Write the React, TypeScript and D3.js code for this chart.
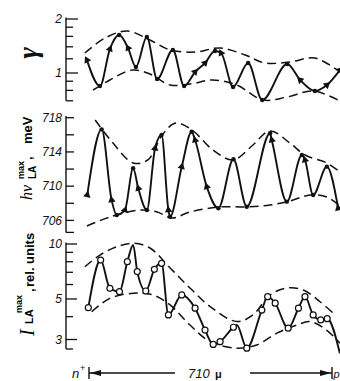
import React, { useRef, useEffect } from 'react';
import * as d3 from 'd3';

// x is the distance from the n+ contact, in microns (0..710)
const gammaCurve: [number, number][] = [
    [-6, 1.18], [32, 0.846], [61, 1.36], [88, 1.628], [114, 1.379], [137, 1.08], [169, 1.587],
    [199, 0.926], [245, 1.344], [278, 0.846], [310, 1.013], [339, 1.137], [368, 1.326], [386, 1.293],
    [421, 0.836], [465, 1.137], [506, 0.707], [579, 1.122], [617, 0.914], [660, 0.794], [695, 0.857],
    [733, 1.039]
];
const gammaUpper: [number, number][] = [
    [-12, 1.293], [47, 1.567], [111, 1.714], [178, 1.527], [237, 1.344], [310, 1.309], [383, 1.379],
    [456, 1.26], [514, 1.137], [587, 1.152], [660, 1.212], [733, 1.013]
];
const gammaLower: [number, number][] = [
    [12, 0.804], [61, 0.914], [126, 1.039], [178, 0.987], [237, 0.857], [295, 0.868], [362, 0.914],
    [432, 0.857], [508, 0.707], [579, 0.735], [655, 0.794], [733, 0.698]
];
const gammaTicks = [0.7, 0.8, 0.9, 1, 1.2, 1.4, 1.6, 1.8, 2];
const gammaLabels = [1, 2];

const energyCurve: [number, number][] = [
    [-5, 708.97], [37, 716.64], [66, 708.39], [81, 706.63], [105, 707.22], [129, 712.09], [144, 709.75],
    [169, 707.22], [193, 714.43], [212, 715.98], [232, 707.22], [237, 706.43], [271, 712.28],
    [300, 716.36], [310, 715.39], [344, 709.94], [378, 707.42], [422, 713.14], [461, 707.6],
    [529, 716.18], [534, 715.39], [578, 708.19], [622, 713.64], [631, 713.06], [655, 708.97],
    [695, 712.28], [728, 707.42]
];
const energyUpper: [number, number][] = [
    [18, 717.73], [70, 715.04], [129, 712.71], [172, 713.06], [216, 716.1], [254, 717.38], [301, 716.56],
    [362, 714.23], [421, 713.06], [476, 714.69], [529, 716.45], [587, 715.04], [631, 713.64],
    [695, 712.71], [733, 711.66]
];
const energyLower: [number, number][] = [
    [-6, 705.35], [61, 706.4], [149, 707.22], [199, 706.98], [243, 706.28], [295, 706.98], [383, 707.57],
    [462, 707.57], [529, 707.8], [587, 708.27], [646, 708.97], [695, 708.74], [733, 707.68]
];
const energyTicks = [706, 708, 710, 712, 714, 716, 718];
const energyLabels = [706, 710, 714, 718];

const intensityCurve: [number, number][] = [
    [-2, 4.48], [34, 8.17], [61, 5.72], [89, 5.48], [112, 8.0], [129, 9.87], [141, 7.06], [166, 5.53],
    [191, 7.27], [212, 7.84], [232, 4.09], [271, 5.26], [310, 4.45], [339, 3.38], [363, 2.82],
    [383, 2.92], [422, 3.5], [432, 3.6], [461, 2.69], [505, 4.35], [522, 5.15], [544, 4.74],
    [582, 3.46], [612, 4.45], [631, 5.15], [655, 4.09], [677, 3.84], [696, 3.9], [733, 2.52]
];
// points of the curve drawn without a circle
const intensityBare = [129, 432, 733];
const intensityUpper: [number, number][] = [
    [-12, 7.51], [32, 8.7], [81, 9.66], [129, 10.09], [178, 9.51], [237, 7.39], [295, 5.74], [354, 4.54],
    [432, 3.76], [479, 4.09], [529, 5.26], [578, 5.74], [626, 5.6], [675, 4.83], [713, 4.19]
];
const intensityLower: [number, number][] = [
    [8, 4.26], [61, 5.04], [129, 5.37], [187, 5.26], [237, 4.64], [295, 3.6], [354, 2.92], [432, 2.69],
    [490, 2.8], [549, 3.25], [607, 3.6], [646, 3.76], [694, 3.38], [733, 2.86]
];
const intensityTicks = [3, 4, 5, 6, 7, 8, 9, 10];
const intensityLabels = [3, 5, 10];

const App: React.FC = () => {
    const svgRef = useRef<SVGSVGElement | null>(null);

    useEffect(() => {
        const svg = d3.select(svgRef.current);
        svg.selectAll('*').remove();
        const width = 340;
        const height = 381;
        const axisX = 66;
        const ink = '#111';
        const sans = 'Liberation Sans, Arial, sans-serif';
        const serif = 'Liberation Serif, Times New Roman, serif';

        svg.attr('width', width).attr('height', height).style('background', '#fff');

        const x = d3.scaleLinear().domain([0, 710]).range([89, 332]);

        const panels = [
            {
                y: d3.scaleLog().domain([0.7, 2]).range([100.8, 19]),
                curve: gammaCurve, upper: gammaUpper, lower: gammaLower,
                ticks: gammaTicks, labels: gammaLabels, extent: [0.7, 2.04],
                marks: 'arrow', major: 12, minor: 7
            },
            {
                y: d3.scaleLinear().domain([706, 718]).range([220.4, 117.7]),
                curve: energyCurve, upper: energyUpper, lower: energyLower,
                ticks: energyTicks, labels: energyLabels, extent: [704.6, 718.2],
                marks: 'arrow', major: 8, minor: 8
            },
            {
                y: d3.scaleLog().domain([3, 10]).range([339.5, 244]),
                curve: intensityCurve, upper: intensityUpper, lower: intensityLower,
                ticks: intensityTicks, labels: intensityLabels, extent: [2.66, 10.2],
                marks: 'circle', major: 11, minor: 7
            }
        ];

        panels.forEach(p => {
            const g = svg.append('g');

            // axis with inward ticks
            g.append('line')
                .attr('x1', axisX).attr('x2', axisX)
                .attr('y1', p.y(p.extent[1])).attr('y2', p.y(p.extent[0]))
                .attr('stroke', ink).attr('stroke-width', 1.4);

            const tickVals = Array.from(new Set([...p.ticks, p.extent[0]]));
            g.selectAll('line.tick')
                .data(tickVals)
                .enter()
                .append('line')
                .attr('class', 'tick')
                .attr('x1', axisX)
                .attr('x2', d => axisX + (p.labels.includes(d) ? p.major : p.minor))
                .attr('y1', d => p.y(d))
                .attr('y2', d => p.y(d))
                .attr('stroke', ink)
                .attr('stroke-width', 1.3);

            g.selectAll('text.lbl')
                .data(p.labels)
                .enter()
                .append('text')
                .attr('class', 'lbl')
                .attr('x', axisX - 4)
                .attr('y', d => p.y(d))
                .attr('dy', '0.36em')
                .attr('text-anchor', 'end')
                .style('font-family', sans)
                .style('font-style', 'italic')
                .style('font-size', '12px')
                .style('fill', ink)
                .text(d => d);

            // dashed envelopes
            const env = d3.line<[number, number]>()
                .x(d => x(d[0]))
                .y(d => p.y(d[1]))
                .curve(d3.curveCatmullRom);
            [p.upper, p.lower].forEach(e => {
                g.append('path')
                    .attr('d', env(e))
                    .attr('fill', 'none')
                    .attr('stroke', ink)
                    .attr('stroke-width', 1.5)
                    .attr('stroke-dasharray', '9 5');
            });

            // measured curve
            const line = d3.line<[number, number]>()
                .x(d => x(d[0]))
                .y(d => p.y(d[1]))
                .curve(d3.curveMonotoneX);
            g.append('path')
                .attr('d', line(p.curve))
                .attr('fill', 'none')
                .attr('stroke', ink)
                .attr('stroke-width', 1.9);

            if (p.marks === 'circle') {
                g.selectAll('circle')
                    .data(p.curve.filter(d => !intensityBare.includes(d[0])))
                    .enter()
                    .append('circle')
                    .attr('cx', d => x(d[0]))
                    .attr('cy', d => p.y(d[1]))
                    .attr('r', 3)
                    .attr('fill', '#fff')
                    .attr('stroke', ink)
                    .attr('stroke-width', 1.2);
            } else {
                const c = p.curve;
                c.forEach((d, i) => {
                    const prev = c[Math.max(0, i - 1)];
                    const next = c[Math.min(c.length - 1, i + 1)];
                    const extremum = i > 0 && i < c.length - 1 && (d[1] - prev[1]) * (next[1] - d[1]) < 0;
                    const cx = x(d[0]);
                    const cy = p.y(d[1]);
                    if (extremum) {
                        g.append('circle').attr('cx', cx).attr('cy', cy).attr('r', 2.2).attr('fill', ink);
                    } else {
                        // arrowhead pointing uphill along the curve
                        const hi = prev[1] > next[1] ? prev : next;
                        const lo = hi === prev ? next : prev;
                        const ang = Math.atan2(p.y(hi[1]) - p.y(lo[1]), x(hi[0]) - x(lo[0])) * 180 / Math.PI;
                        g.append('path')
                            .attr('d', d3.symbol(d3.symbolTriangle, 24)())
                            .attr('transform', `translate(${cx},${cy}) rotate(${ang + 90})`)
                            .attr('fill', ink);
                    }
                });
            }
        });

        // axis titles
        svg.append('text')
            .attr('transform', 'translate(37,53) rotate(-90)')
            .attr('text-anchor', 'middle')
            .style('font-family', serif)
            .style('font-style', 'italic')
            .style('font-weight', 'bold')
            .style('font-size', '28px')
            .style('fill', ink)
            .text('γ');

        const t2 = svg.append('g').attr('transform', 'translate(32,200) rotate(-90)');
        t2.append('text').attr('x', 0).attr('y', 0)
            .style('font-family', serif).style('font-style', 'italic').style('font-size', '16px').text('hν');
        t2.append('text').attr('x', 21).attr('y', -8)
            .style('font-family', sans).style('font-weight', 'bold').style('font-size', '9px').text('max');
        t2.append('text').attr('x', 21).attr('y', 4)
            .style('font-family', sans).style('font-weight', 'bold').style('font-size', '10px').text('LA');
        t2.append('text').attr('x', 40).attr('y', 0)
            .style('font-family', sans).style('font-weight', 'bold').style('font-size', '13px').text(',');
        t2.append('text').attr('x', 56).attr('y', 0)
            .style('font-family', sans).style('font-weight', 'bold').style('font-size', '13px').text('meV');

        const t3 = svg.append('g').attr('transform', 'translate(34,336) rotate(-90)');
        t3.append('text').attr('x', 0).attr('y', 0)
            .style('font-family', serif).style('font-style', 'italic').style('font-size', '20px').text('I');
        t3.append('text').attr('x', 12).attr('y', -1)
            .style('font-family', sans).style('font-weight', 'bold').style('font-size', '11px').text('LA');
        t3.append('text').attr('x', 23).attr('y', -12)
            .style('font-family', sans).style('font-weight', 'bold').style('font-size', '9px').text('max');
        t3.append('text').attr('x', 44).attr('y', 0)
            .style('font-family', sans).style('font-weight', 'bold').style('font-size', '13px').text(',');
        t3.append('text').attr('x', 49).attr('y', 0)
            .style('font-family', sans).style('font-weight', 'bold').style('font-size', '13px').text('rel. units');

        // n+ |<---- 710 μ ---->| p
        const ay = 373;
        const x0 = x(0);
        const x1 = x(710);
        const bottom = svg.append('g').style('fill', ink);
        bottom.append('text').attr('x', 72).attr('y', ay + 5)
            .style('font-family', sans).style('font-style', 'italic').style('font-size', '13px').text('n');
        bottom.append('text').attr('x', 80).attr('y', ay - 2)
            .style('font-family', sans).style('font-size', '9px').text('+');
        [x0, x1].forEach(bx => {
            bottom.append('line').attr('x1', bx).attr('x2', bx).attr('y1', ay - 6).attr('y2', ay + 6)
                .attr('stroke', ink).attr('stroke-width', 1.4);
        });
        bottom.append('line').attr('x1', x0).attr('x2', 175).attr('y1', ay).attr('y2', ay)
            .attr('stroke', ink).attr('stroke-width', 1.3);
        bottom.append('path').attr('d', `M${x0 + 1},${ay}L${x0 + 12},${ay - 3}L${x0 + 12},${ay + 3}Z`);
        bottom.append('line').attr('x1', 250).attr('x2', x1).attr('y1', ay).attr('y2', ay)
            .attr('stroke', ink).attr('stroke-width', 1.3);
        bottom.append('path').attr('d', `M${x1 - 1},${ay}L${x1 - 12},${ay - 3}L${x1 - 12},${ay + 3}Z`);
        bottom.append('text').attr('x', 188).attr('y', ay + 5)
            .style('font-family', sans).style('font-style', 'italic').style('font-size', '13px').text('710');
        bottom.append('text').attr('x', 215).attr('y', ay + 5)
            .style('font-family', sans).style('font-weight', 'bold').style('font-size', '11px').text('μ');
        bottom.append('text').attr('x', x1 + 1.5).attr('y', ay + 5)
            .style('font-family', sans).style('font-style', 'italic').style('font-size', '11px').text('p');
    }, []);

    return <svg ref={svgRef} style={{ position: 'absolute', left: 0, top: 0 }}></svg>;
};

export default App;
